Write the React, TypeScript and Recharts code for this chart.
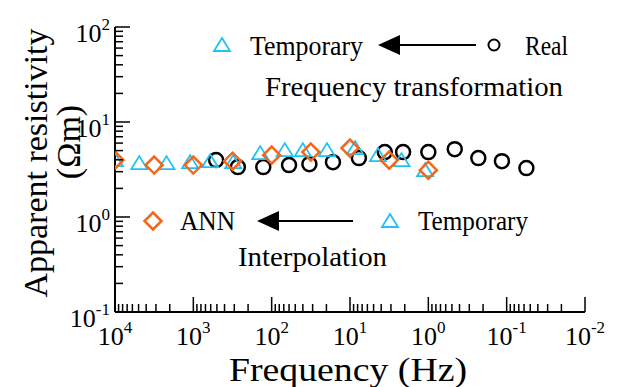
import React from 'react';
import { ScatterChart, Scatter, XAxis, YAxis } from 'recharts';

// Real (black circles)
const realFreq = [512, 270, 128, 60, 33, 16.5, 7.7, 3.6, 2.1, 1.0, 0.46, 0.23, 0.115, 0.056];
const realRho = [3.97, 3.35, 3.35, 3.52, 3.6, 3.78, 4.17, 4.82, 4.82, 4.82, 5.18, 4.17, 3.87, 3.27];

// Temporary (cyan triangles)
const tempFreq = [10000, 4900, 2200, 1100, 610, 310, 140, 68, 40, 19.7, 8.6, 4.4, 2.2, 1.1];
const tempRho = [3.97, 3.69, 3.69, 3.78, 3.87, 3.78, 4.7, 5.06, 5.06, 5.06, 5.31, 4.48, 3.97, 3.11];

// ANN (orange diamonds)
const annFreq = [10000, 3162, 1000, 316, 100, 31.6, 10, 3.16, 1.0];
const annRho = [3.97, 3.52, 3.52, 3.87, 4.48, 4.82, 5.31, 3.97, 3.11];

// major ticks (decades)
const xMajor = [0.01, 0.1, 1, 10, 100, 1000, 10000];
const yMajor = [0.1, 1, 10, 100];

const FONT = '"Liberation Serif", "Times New Roman", serif';
const CYAN = '#1ec3f2';
const ORANGE = '#f5661c';

// add 2..9 minor ticks between decades
const withMinors = (majors: number[]) => {
  const out: number[] = [];
  majors.forEach((m, i) => {
    out.push(m);
    if (i < majors.length - 1) for (let k = 2; k <= 9; k++) out.push(+(m * k).toPrecision(6));
  });
  return out;
};

const isMajor = (v: number) => Math.abs(Math.log10(v) - Math.round(Math.log10(v))) < 1e-6;
const expOf = (v: number) => Math.round(Math.log10(v));

const toPoints = (fs: number[], rs: number[]) => fs.map((f, i) => ({ f, rho: rs[i] }));

const CircleMark = (p: any) => (
  <circle cx={p.cx} cy={p.cy} r={7} fill="none" stroke="#000" strokeWidth={2.5} />
);

const TriMark = (p: any) => {
  const { cx, cy } = p;
  return (
    <polygon
      points={`${cx},${cy - 7} ${cx - 8},${cy + 6} ${cx + 8},${cy + 6}`}
      fill="none"
      stroke={CYAN}
      strokeWidth={1.8}
    />
  );
};

const DiamondMark = (p: any) => {
  const { cx, cy } = p;
  return (
    <polygon
      points={`${cx},${cy - 8.5} ${cx + 8.5},${cy} ${cx},${cy + 8.5} ${cx - 8.5},${cy}`}
      fill="none"
      stroke={ORANGE}
      strokeWidth={2.5}
    />
  );
};

const XTick = (props: any) => {
  const { x, y, payload } = props;
  const v = payload.value;
  const major = isMajor(v);
  return (
    <g>
      <line x1={x} x2={x} y1={y} y2={y - (major ? 15 : 8)} stroke="#000" strokeWidth={1.5} />
      {major && (
        <text x={x} y={y + 33} textAnchor="middle" fontFamily={FONT} fontSize={26} fill="#000">
          10<tspan dy={-12} fontSize={17}>{expOf(v)}</tspan>
        </text>
      )}
    </g>
  );
};

const YTick = (props: any) => {
  const { x, y, payload } = props;
  const v = payload.value;
  const major = isMajor(v);
  return (
    <g>
      <line x1={x} x2={x + (major ? 15 : 8)} y1={y} y2={y} stroke="#000" strokeWidth={1.5} />
      {major && (
        <text x={x - 5} y={y + 15} textAnchor="end" fontFamily={FONT} fontSize={26} fill="#000">
          10<tspan dy={-12} fontSize={17}>{expOf(v)}</tspan>
        </text>
      )}
    </g>
  );
};

const XTitle = (props: any) => {
  const vb = props.viewBox;
  return (
    <text
      x={vb.x + vb.width / 2 - 2}
      y={vb.y + 69}
      textAnchor="middle"
      fontFamily={FONT}
      fontSize={34}
      textLength={238}
      lengthAdjust="spacingAndGlyphs"
      fill="#000"
    >
      Frequency (Hz)
    </text>
  );
};

const YTitle = () => (
  <g fontFamily={FONT} fontSize={34} fill="#000" textAnchor="middle">
    <text x={47} y={163} transform="rotate(-90 47 163)">Apparent resistivity</text>
    <text x={80} y={142} transform="rotate(-90 80 142)">(Ωm)</text>
  </g>
);

const Arrow = ({ tip, end, y }: { tip: number; end: number; y: number }) => (
  <g>
    <line x1={tip + 20} x2={end} y1={y} y2={y} stroke="#000" strokeWidth={2} />
    <polygon points={`${tip},${y} ${tip + 22},${y - 10} ${tip + 22},${y + 10}`} fill="#000" />
  </g>
);

const Note = ({ x, y, w, children }: { x: number; y: number; w: number; children: string }) => (
  <text x={x} y={y} textLength={w} lengthAdjust="spacingAndGlyphs">
    {children}
  </text>
);

const Annotations = () => (
  <svg width={617} height={387} style={{ position: 'absolute', left: 0, top: 0, pointerEvents: 'none' }}>
    <g fontFamily={FONT} fontSize={27} fill="#000">
      <TriMark cx={222} cy={45} />
      <Note x={250} y={55} w={113}>Temporary</Note>
      <Arrow tip={378} end={476} y={45} />
      <circle cx={494} cy={45} r={5.5} fill="none" stroke="#000" strokeWidth={2} />
      <Note x={525} y={55} w={43}>Real</Note>
      <Note x={265} y={96} w={298}>Frequency transformation</Note>

      <DiamondMark cx={153} cy={221} />
      <Note x={180} y={230} w={55}>ANN</Note>
      <Arrow tip={257} end={353} y={221} />
      <TriMark cx={390} cy={221} />
      <Note x={418} y={230} w={110}>Temporary</Note>
      <Note x={238} y={266} w={149}>Interpolation</Note>
    </g>
  </svg>
);

export default function App() {
  const realData = toPoints(realFreq, realRho);
  const tempData = toPoints(tempFreq, tempRho);
  const annData = toPoints(annFreq, annRho);

  return (
    <div style={{ position: 'absolute', left: 0, top: 0, width: 617, height: 387, background: '#fff' }}>
      <ScatterChart width={617} height={387} margin={{ top: 27, right: 32, bottom: 0, left: 0 }}>
        <XAxis
          type="number"
          dataKey="f"
          scale="log"
          domain={[0.01, 10000]}
          reversed
          allowDataOverflow
          ticks={withMinors(xMajor)}
          interval={0}
          height={75}
          tickSize={0}
          tickMargin={0}
          tickLine={false}
          axisLine={{ stroke: '#000', strokeWidth: 2 }}
          tick={XTick}
          label={{ content: XTitle }}
        />
        <YAxis
          type="number"
          dataKey="rho"
          scale="log"
          domain={[0.1, 100]}
          allowDataOverflow
          ticks={withMinors(yMajor)}
          interval={0}
          width={115}
          tickSize={0}
          tickMargin={0}
          tickLine={false}
          axisLine={{ stroke: '#000', strokeWidth: 2 }}
          tick={YTick}
          label={{ content: YTitle }}
        />
        <Scatter name="Real" data={realData} shape={CircleMark} isAnimationActive={false} />
        <Scatter name="Temporary" data={tempData} shape={TriMark} isAnimationActive={false} />
        <Scatter name="ANN" data={annData} shape={DiamondMark} isAnimationActive={false} />
      </ScatterChart>
      <Annotations />
    </div>
  );
}
